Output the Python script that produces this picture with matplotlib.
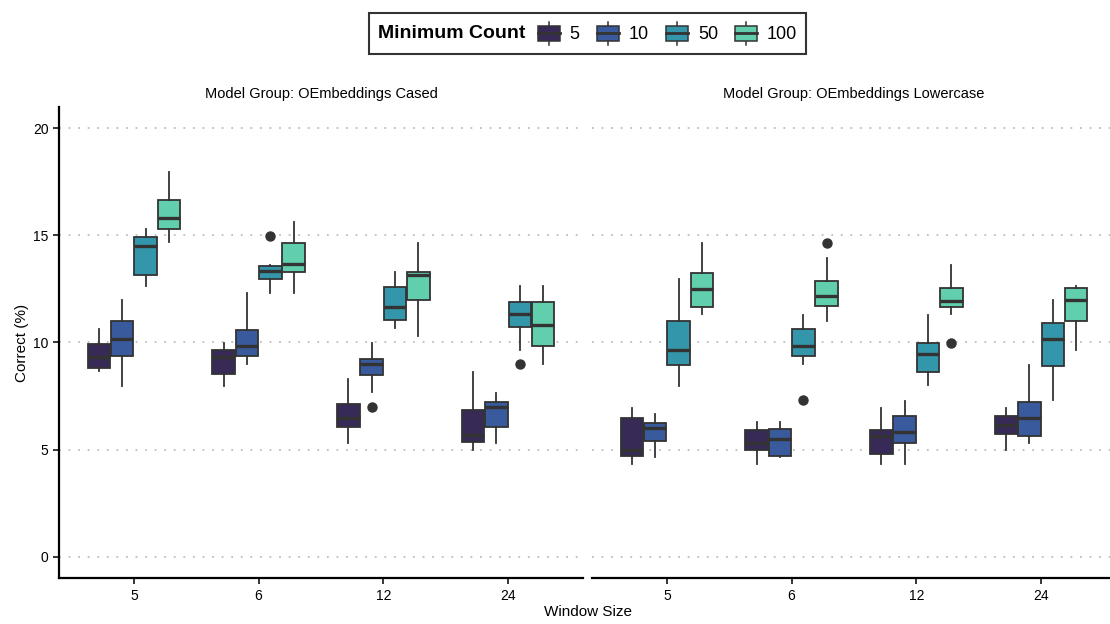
import matplotlib
matplotlib.use("Agg")
import matplotlib.pyplot as plt
from matplotlib.patches import Rectangle, Patch
from matplotlib.lines import Line2D
from matplotlib.legend_handler import HandlerBase
from matplotlib.offsetbox import HPacker

plt.rcParams['font.family'] = ['Liberation Sans', 'DejaVu Sans']

windows = ["5", "6", "12", "24"]
counts = ["5", "10", "50", "100"]
colors = ["#382A56", "#3A5A9E", "#3496AA", "#61CFAD"]
panels = ["Model Group: OEmbeddings Cased", "Model Group: OEmbeddings Lowercase"]

# rows = window size, columns = minimum count
cased_lo = [[8.67, 7.99, 12.65, 14.67],
            [7.99, 9.00, 12.32, 12.32],
            [5.31, 7.67, 10.66, 10.32],
            [5.00, 5.31, 9.66, 9.00]]
cased_q1 = [[8.80, 9.39, 13.13, 15.29],
            [8.55, 9.39, 12.98, 13.30],
            [6.05, 8.47, 11.05, 11.98],
            [5.38, 6.06, 10.74, 9.82]]
cased_med = [[9.31, 10.15, 14.48, 15.82],
             [9.31, 9.82, 13.32, 13.64],
             [6.50, 8.98, 11.66, 13.15],
             [5.67, 6.99, 11.31, 10.83]]
cased_q3 = [[9.92, 10.99, 14.90, 16.64],
            [9.65, 10.57, 13.55, 14.65],
            [7.15, 9.23, 12.57, 13.30],
            [6.84, 7.24, 11.90, 11.87]]
cased_hi = [[10.63, 11.96, 15.29, 17.97],
            [9.96, 12.29, 13.63, 15.64],
            [8.30, 9.96, 13.29, 14.62],
            [8.64, 7.63, 12.63, 12.63]]
cased_out = {(1, 2): [14.97], (2, 1): [6.99], (3, 2): [9.00]}

lower_lo = [[4.32, 4.66, 7.99, 11.31],
            [4.32, 4.66, 9.00, 11.00],
            [4.32, 4.32, 8.00, 11.31],
            [4.99, 5.33, 7.32, 9.66]]
lower_q1 = [[4.72, 5.39, 8.97, 11.64],
            [4.97, 4.72, 9.39, 11.72],
            [4.82, 5.31, 8.64, 11.66],
            [5.72, 5.64, 8.89, 10.99]]
lower_med = [[4.99, 6.00, 9.65, 12.48],
             [5.33, 5.49, 9.82, 12.15],
             [5.66, 5.83, 9.48, 11.95],
             [6.14, 6.48, 10.15, 11.98]]
lower_q3 = [[6.50, 6.25, 11.00, 13.23],
            [5.91, 5.98, 10.64, 12.88],
            [5.91, 6.57, 9.96, 12.56],
            [6.57, 7.24, 10.89, 12.56]]
lower_hi = [[6.96, 6.65, 12.96, 14.62],
            [6.29, 6.29, 11.28, 13.95],
            [6.96, 7.29, 11.28, 13.63],
            [6.96, 8.97, 11.96, 12.63]]
lower_out = {(1, 2): [7.30], (1, 3): [14.65], (2, 3): [9.98]}

EDGE = "#333333"
DODGE = 0.75
BW = DODGE / len(counts)


def draw_panel(ax, lo, q1, med, q3, hi, out):
    for c in range(len(counts)):
        stats, pos = [], []
        for w in range(len(windows)):
            stats.append(dict(whislo=lo[w][c], q1=q1[w][c], med=med[w][c],
                              q3=q3[w][c], whishi=hi[w][c],
                              fliers=out.get((w, c), [])))
            pos.append(w + 1 - DODGE / 2 + BW * (c + 0.5))
        ax.bxp(stats, positions=pos, widths=BW * 0.96, patch_artist=True,
               showcaps=False, manage_ticks=False,
               boxprops=dict(facecolor=colors[c], edgecolor=EDGE, linewidth=1.3),
               medianprops=dict(color=EDGE, linewidth=2.4),
               whiskerprops=dict(color=EDGE, linewidth=1.3),
               flierprops=dict(marker='o', markerfacecolor=EDGE,
                               markeredgecolor=EDGE, markersize=6.5))
    ax.set_xlim(0.4, 4.6)
    ax.set_ylim(-1, 21)
    ax.set_yticks([0, 5, 10, 15, 20])
    ax.set_xticks(range(1, len(windows) + 1))
    ax.set_xticklabels(windows)
    ax.yaxis.grid(True, color="#BDBDBD", linewidth=1.3, linestyle=(0, (1, 4.3)))
    ax.set_axisbelow(True)
    for s in ["top", "right"]:
        ax.spines[s].set_visible(False)
    ax.spines["bottom"].set_linewidth(1.6)
    ax.spines["left"].set_linewidth(1.6)
    ax.tick_params(length=4, width=1.1, labelsize=10, colors="black")


fig = plt.figure(figsize=(11.1, 6.24), dpi=100)
W, H = 1110, 624
ax1 = fig.add_axes([59 / W, (H - 578.3) / H, 524 / W, 471.6 / H])
ax2 = fig.add_axes([592 / W, (H - 578.3) / H, 524 / W, 471.6 / H])

draw_panel(ax1, cased_lo, cased_q1, cased_med, cased_q3, cased_hi, cased_out)
draw_panel(ax2, lower_lo, lower_q1, lower_med, lower_q3, lower_hi, lower_out)
ax2.spines["left"].set_visible(False)
ax2.tick_params(axis="y", left=False, labelleft=False)

for ax, title in zip([ax1, ax2], panels):
    ax.set_title(title, fontsize=10.5, pad=6)

ax1.set_ylabel("Correct (%)", fontsize=11, labelpad=3)
fig.text(587.5 / W, 1 - 612 / H, "Window Size", ha="center", va="center", fontsize=11)


class BoxKey(HandlerBase):
    def create_artists(self, legend, orig_handle, xd, yd, width, height, fontsize, trans):
        x0, y0 = -xd, -yd
        fc = orig_handle.get_facecolor()
        b0, b1 = y0 + height * 0.17, y0 + height * 0.83
        wh = Line2D([x0 + width / 2] * 2, [y0, y0 + height],
                    color=EDGE, lw=1.1, transform=trans)
        box = Rectangle((x0, b0), width, b1 - b0, facecolor=fc, edgecolor=EDGE,
                        lw=1.1, transform=trans)
        med = Line2D([x0, x0 + width], [(b0 + b1) / 2] * 2, color=EDGE, lw=2.0,
                     transform=trans)
        return [wh, box, med]


handles = [Patch(facecolor=col) for col in colors]
leg = fig.legend(handles, counts, handler_map={Patch: BoxKey()},
                 loc="center", bbox_to_anchor=(587.5 / W, 1 - 33.5 / H),
                 ncol=4, fontsize=13, title="Minimum Count",
                 title_fontproperties=dict(weight="bold", size=14),
                 handlelength=1.22, handleheight=1.6, handletextpad=0.55,
                 columnspacing=0.95, frameon=True, fancybox=False,
                 borderpad=0.5, edgecolor="black")
leg.get_frame().set_linewidth(1.5)
# put the title to the left of the keys instead of above them
leg._legend_box = HPacker(pad=leg.borderpad * 13, sep=9, align="center",
                          children=[leg._legend_title_box, leg._legend_handle_box])
leg._legend_box.set_figure(fig)
leg._legend_box.set_offset(leg._findoffset)

fig.savefig("out.png", dpi=100)
